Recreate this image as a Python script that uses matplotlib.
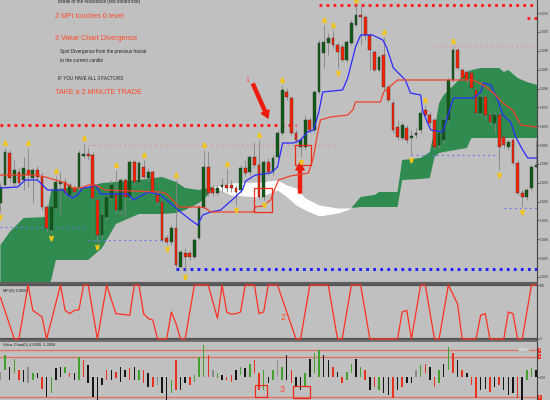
import numpy as np
import matplotlib
matplotlib.use('Agg')
import matplotlib.pyplot as plt
from matplotlib.patches import Rectangle
from matplotlib.ticker import FuncFormatter

plt.rcParams['font.family'] = ['Liberation Sans Narrow', 'Liberation Sans', 'DejaVu Sans']

# ------------------------------------------------------------
# price candles (price points)
# ------------------------------------------------------------
bars = np.arange(117)
opens = np.array([
    80, 98, 130, 100, 111, 103, 113, 105, 113, 106,
    76, 53, 75, 99, 101, 88, 95, 96, 127, 129,
    128, 83, 48, 66, 85, 90, 73, 103, 86, 121,
    101, 116, 105, 111, 88, 81, 45, 41, 55, 16,
    30, 30, 26, 45, 76, 116, 95, 90, 96, 98,
    98, 95, 93, 115, 111, 126, 118, 86, 121, 111,
    126, 150, 191, 185, 150, 136, 136, 163, 153, 191,
    230, 240, 245, 238, 236, 223, 240, 258, 268, 266,
    248, 231, 213, 228, 196, 180, 156, 145, 155, 145,
    148, 153, 173, 168, 163, 138, 143, 163, 203, 233,
    213, 211, 210, 193, 170, 186, 168, 160, 168, 146,
    136, 143, 120, 90, 86, 95, 116])
closes = np.array([
    96, 131, 105, 113, 100, 115, 108, 113, 106, 76,
    55, 76, 101, 101, 90, 98, 91, 130, 129, 127,
    85, 48, 68, 86, 98, 73, 103, 86, 121, 101,
    120, 106, 111, 91, 81, 43, 41, 55, 18, 31,
    26, 26, 43, 76, 116, 90, 90, 95, 98, 95,
    95, 91, 115, 110, 126, 118, 86, 121, 111, 125,
    150, 193, 186, 150, 143, 143, 163, 153, 191, 240,
    241, 245, 238, 231, 223, 241, 260, 268, 266, 248,
    233, 213, 226, 196, 183, 153, 146, 158, 143, 147,
    150, 170, 168, 160, 136, 150, 163, 203, 233, 215,
    205, 203, 195, 170, 186, 168, 161, 168, 136, 138,
    141, 120, 90, 86, 93, 116, 118])
highs = np.array([
    100, 135, 133, 123, 115, 126, 135, 115, 117, 111,
    78, 78, 107, 111, 105, 100, 98, 133, 140, 135,
    131, 85, 70, 88, 103, 113, 105, 105, 123, 123,
    122, 123, 115, 113, 91, 83, 48, 58, 103, 33,
    35, 33, 45, 78, 133, 131, 98, 98, 105, 114,
    103, 98, 118, 123, 128, 141, 143, 123, 125, 128,
    153, 198, 195, 187, 153, 146, 168, 166, 193, 243,
    258, 250, 253, 241, 239, 243, 263, 278, 278, 268,
    250, 233, 228, 246, 198, 183, 163, 161, 158, 153,
    155, 173, 178, 171, 165, 153, 166, 205, 237, 235,
    215, 213, 212, 195, 188, 188, 173, 171, 171, 148,
    143, 145, 123, 93, 95, 118, 143])
lows = np.array([
    71, 95, 101, 97, 97, 93, 96, 80, 103, 73,
    51, 50, 73, 68, 87, 85, 88, 93, 125, 123,
    83, 41, 45, 63, 83, 70, 68, 66, 83, 98,
    98, 103, 101, 88, 78, 41, 39, 38, 16, 16,
    11, 23, 24, 43, 74, 87, 87, 88, 91, 91,
    91, 78, 90, 107, 108, 115, 84, 83, 108, 108,
    123, 148, 183, 148, 140, 126, 133, 150, 151, 189,
    215, 228, 235, 215, 221, 221, 238, 256, 238, 243,
    213, 211, 211, 193, 181, 150, 143, 143, 140, 128,
    145, 150, 165, 157, 133, 135, 140, 160, 201, 213,
    203, 200, 193, 168, 168, 165, 158, 150, 113, 135,
    133, 118, 88, 76, 83, 93, 115])

fractal_up = [1, 6, 12, 18, 25, 31, 38, 44, 49, 56, 61, 70, 72, 77, 83, 92, 98]
fractal_down = [0, 11, 21, 36, 40, 51, 57, 65, 73, 89, 108, 113]

# fractal levels (dotted lines)
level_vals = [158, 278, 265, 237, 138, 56, 43, 14, 128, 75]
level_start = [0, 69, 114, 94, 19, 0, 19, 38, 89, 109]
level_end = [64, 116.3, 116.3, 116.3, 73, 18, 36, 116.3, 108, 116.3]
level_kind = ['res_big', 'res_big', 'res_big', 'res_small', 'res_small',
              'sup_small', 'sup_small', 'sup_big', 'sup_small', 'sup_small']

# ichimoku cloud
cloud_x = np.array([0, 2, 5, 10, 11, 12, 19, 22, 25, 30, 35, 38, 40, 43, 45, 46,
                    50, 56, 60, 62, 64, 66, 69, 73, 75, 76,
                    78, 81, 82, 86, 87, 91, 93, 94, 95, 96, 101, 102, 104, 108,
                    109, 110, 112, 114, 116.3])
span_a = np.array([38, 51, 65, 66, 93, 94, 96, 100, 101, 103, 106, 101, 95, 93, 95, 96,
                   88, 86, 93, 86, 78, 73, 67, 70, 73, 75,
                   86, 88, 91, 91, 123, 125, 131, 153, 180, 188, 211, 213, 215, 215,
                   211, 213, 205, 201, 198])
span_b = np.array([-17, -15, -12, -7, 3, 23, 23, 35, 59, 69, 69, 70, 73, 80, 88, 96,
                   100, 101, 103, 98, 95, 85, 78, 75, 75, 75,
                   76, 76, 76, 76, 103, 104, 105, 126, 130, 131, 135, 145, 145, 145,
                   145, 145, 145, 145, 145])

tenkan_x = [0, 3.7, 5.4, 8, 9.1, 10.2, 13.6, 14.5, 15.6, 16.7, 17.8, 19.5, 20.6, 21.7,
            27.7, 28.8, 32, 34.7, 36.8, 39, 41.2, 42.7, 43.8, 45.5, 47.7, 49.4, 50.9,
            52.4, 53.1, 55.2, 58.5, 60, 61.1, 63.5, 65, 66.5, 67.8, 68.9, 69.8, 74.1,
            75.2, 76.9, 78, 80.6, 82.8, 83.6, 85.1, 86.2, 87.7, 88.8, 91, 91.4, 92.5,
            93.2, 95.8, 96.8, 98.1, 102.5, 104, 104.6, 106.2, 107.7, 108.8, 110.5,
            111.6, 113.1, 114.2, 116.3]
tenkan_v = [95, 96, 103, 103, 98, 93, 93, 88, 85, 88, 95, 96, 98, 89,
            89, 83, 91, 88, 80, 71, 63, 58, 68, 71, 73, 80, 86,
            93, 102, 108, 110, 116, 140, 140, 143, 151, 153, 170, 191, 193,
            205, 236, 248, 248, 243, 236, 215, 210, 203, 190, 188, 173, 160,
            153, 151, 166, 185, 185, 191, 200, 198, 183, 168, 161,
            146, 133, 125, 125]

kijun_x = [0, 7.6, 9.7, 11.9, 14.1, 15.6, 17.3, 19.1, 20.6, 22.7, 34.7, 35.7, 37.3,
           38.6, 42.9, 44.4, 45.5, 54.8, 55.2, 56.8, 58.5, 60.2, 62.8, 66.7, 67.8,
           68.7, 69.3, 71.5, 75.2, 76.3, 76.9, 82.3, 83, 86, 102.3, 104.6, 106.8,
           108.8, 110.9, 112.7, 116.3]
kijun_v = [108, 108, 106, 103, 100, 95, 95, 98, 98, 93, 91, 90, 83,
           76, 76, 75, 71, 71, 76, 77, 83, 103, 107, 110, 126,
           150, 163, 166, 168, 173, 181, 181, 191, 203, 203, 198, 190,
           180, 173, 158, 156]

# MFI
mfi_x = [0, 3, 4, 6, 7, 9, 10, 13, 14, 15, 16, 17, 18, 19, 21, 23, 25, 28, 29, 30,
         31, 32, 33, 34, 36, 37, 38, 39, 40, 42, 45, 47, 48, 49, 50, 51, 52, 53, 55, 56,
         57, 58, 60, 64, 65, 67, 71, 73, 74, 76, 78, 80, 86, 87, 88, 89, 91, 92, 94, 95,
         97, 99, 100, 103, 104, 105, 106, 109, 110, 111, 112, 113, 115, 116.3]
mfi_v = [77, 0, 0, 100, 53, 41, 0, 100, 53, 47, 53, 54, 100, 100, 0, 100, 47, 44, 100, 100,
         47, 38, 35, 0, 0, 50, 29, 0, 0, 100, 100, 38, 100, 50, 46, 47, 50, 100, 100, 47,
         50, 100, 100, 0, 0, 100, 100, 0, 0, 100, 100, 0, 0, 50, 53, 0, 100, 100, 0, 0,
         100, 65, 0, 0, 44, 47, 0, 0, 50, 47, 0, 0, 100, 100]

# Value Chart bars
vc_top = np.array([
    1.5, 6.5, 3.1, 5.5, 2.1, 2.1, 3.1, 1.1, 1.1, 0.1,
    0.1, 0.1, 2.6, 3.1, 3.1, 1.1, 1.1, 6.0, 5.0, 3.6,
    0.1, 0.1, -0.4, 2.1, 2.1, 1.6, 3.1, 2.1, 2.6, 3.1,
    2.1, 2.1, 1.1, 0.1, 0.1, 0.1, 0.1, -0.9, 5.0, 0.1,
    0.1, 0.1, 0.6, 6.0, 9.5, 6.5, 2.1, 1.1, 0.6, 0.1,
    0.6, 2.1, 3.1, 2.6, 4.0, 5.0, 1.1, 2.1, 0.1, 2.1,
    5.0, 3.1, 6.5, 2.1, 0.1, 0.1, 1.1, 5.5, 7.0, 8.0,
    6.5, 5.0, 3.1, 1.6, 0.1, 1.6, 4.0, 5.5, 3.1, 2.1,
    0.1, 0.1, 0.1, 0.1, 0.1, 0.1, 0.1, 0.1, 0.1, 0.1,
    2.1, 3.6, 4.0, 3.1, 0.1, 2.1, 4.0, 9.0, 7.0, 5.0,
    2.1, 1.1, 0.1, 0.1, 0.1, 0.1, 0.1, 0.1, 0.1, 0.1,
    0.1, 0.1, 0.1, 0.1, 2.1, 2.6, 2.1])
vc_bot = np.array([
    -0.9, 2.1, -0.9, 1.1, -0.9, -1.4, -1.9, -0.9, -0.4, -3.4,
    -5.8, -4.8, -0.9, 0.1, 1.1, 0.1, -0.9, -0.9, 0.1, -1.9,
    -5.8, -6.8, -2.4, -0.9, -0.9, -0.4, -1.4, 0.1, -0.9, -0.9,
    -0.9, -1.9, -2.9, -2.9, -2.4, -4.8, -6.8, -4.8, -3.9, -3.9,
    -1.9, -2.4, -1.4, 0.1, 0.1, 0.1, 0.1, -0.4, -0.9, -0.9,
    -1.4, -0.9, 0.6, 0.1, 0.1, 1.1, -3.9, -3.9, -1.9, -0.9,
    0.1, -0.9, -0.9, -1.9, -2.9, -3.9, -2.9, 0.1, 1.1, 0.1,
    0.1, 0.1, 0.1, 0.1, -1.9, -0.9, 1.1, 0.1, 0.1, -0.9,
    -3.9, -2.9, -3.9, -4.8, -5.3, -6.3, -3.9, -2.9, -1.9, -1.9,
    0.1, 0.1, 1.1, -0.9, -2.9, -1.9, 0.1, 2.1, 1.1, 0.1,
    0.1, 0.1, -2.4, -6.3, -3.9, -3.4, -4.3, -2.9, -2.4, -3.9,
    -5.3, -4.8, -6.3, -6.8, -0.9, 0.1, 0.1])
vc_kind = ("ygkgrkygkr" "kgkkgrkgrk" "kkkrkrkkrk" "grkrykkgrk" "krgggrygkr"
           "rkgkgrrgkg" "ygkrkkgkgg" "kkrkrggkgr" "krgkkrkrkk" "ygrkrgkgrk"
           "rkrrkkrkrk" "kkrkggk")

# right axis price labels
price_ticks = np.arange(1.2030, 1.21001, 0.0005)

# ------------------------------------------------------------
# style
# ------------------------------------------------------------
BG = '#c0c0c0'
GREEN = '#0f5c14'
RED = '#ff2200'
CLOUD = '#2f8b50'
BLUE = '#2b2bff'
KIJUN = '#f0412a'
NOTE = '#ff4a2a'
VC_COL = {'g': '#44a02c', 'r': '#e8321e', 'k': '#151515', 'y': '#8c8c8c'}
LEVEL_STYLE = {
    'res_big': dict(color='#ff1e1e', lw=2.2, ls=(0, (0.9, 1.4))),
    'res_small': dict(color='#e89088', lw=0.8, ls=(0, (1.6, 3.0))),
    'sup_big': dict(color='#1e1eff', lw=2.2, ls=(0, (0.9, 1.4))),
    'sup_small': dict(color='#7070f0', lw=0.8, ls=(0, (1.6, 3.0))),
}
XLIM = (-0.1, 116.2)

W, H = 550, 400
fig = plt.figure(figsize=(5.5, 4.0), dpi=100, facecolor=BG)


def fx(x):
    return x / W


def fy(y):
    return 1 - y / H


ax = fig.add_axes([0, fy(283), fx(537), 283 / H])
ax_mfi = fig.add_axes([0, fy(340), fx(537), 56 / H])
ax_vc = fig.add_axes([0, 0, fx(537), 59 / H])

for a in (ax, ax_mfi, ax_vc):
    a.set_facecolor(BG)
    a.set_xlim(*XLIM)
    a.set_xticks([])
    for s in ('top', 'left', 'bottom'):
        a.spines[s].set_visible(False)
    a.spines['right'].set_color('#404040')
    a.spines['right'].set_linewidth(0.8)
    a.yaxis.tick_right()
    a.tick_params(axis='y', labelsize=2.2, length=1.2, pad=0.6, colors='#333333', width=0.5)

# ---------------- main panel ----------------
ax.set_ylim(0, 283)
ax.spines['bottom'].set_visible(True)
ax.spines['bottom'].set_color('#606060')
ax.spines['bottom'].set_linewidth(1.6)
ax.set_yticks(6 + (price_ticks - 1.2030) / 0.0005 * 18.85)
ax.yaxis.set_major_formatter(FuncFormatter(lambda v, p: f'{1.2030 + (v - 6) / 18.85 * 0.0005:.4f}'))

ax.fill_between(cloud_x, span_a, span_b, where=span_a >= span_b, interpolate=True,
                color=CLOUD, lw=0, zorder=1)
ax.fill_between(cloud_x, span_a, span_b, where=span_a < span_b, interpolate=True,
                color='white', lw=0, zorder=1)

for v, s, e, k in zip(level_vals, level_start, level_end, level_kind):
    st = LEVEL_STYLE[k]
    ax.plot([s, e], [v, v], color=st['color'], lw=st['lw'], ls=st['ls'],
            dash_capstyle='butt', zorder=2)

up = closes >= opens
ax.vlines(bars, lows, highs, colors='#858585', lw=0.6, zorder=3)
body_lo = np.minimum(opens, closes)
body_h = np.maximum(np.abs(closes - opens), 1.2)
ax.bar(bars, body_h, bottom=body_lo, width=0.6,
       color=np.where(up, GREEN, RED), edgecolor='#303030', lw=0.3, zorder=4)

ax.plot(tenkan_x, tenkan_v, color=BLUE, lw=0.9, zorder=5)
ax.plot(kijun_x, kijun_v, color=KIJUN, lw=0.9, zorder=5)

ax.plot(fractal_up, highs[fractal_up] + 5, ls='none', marker=r'$\wedge$', ms=3,
        color='#f0c418', zorder=6)
ax.plot(fractal_down, lows[fractal_down] - 5, ls='none', marker=r'$\vee$', ms=3,
        color='#f0c418', zorder=6)

# ---------------- MFI panel ----------------
ax_mfi.set_ylim(-1.9, 101.9)
ax_mfi.set_yticks([100, 0])
ax_mfi.set_yticklabels(['100', '0'])
ax_mfi.axhline(100, color='#555555', lw=1.6, zorder=1)
ax_mfi.axhline(0, color='#555555', lw=1.6, zorder=1)
ax_mfi.plot(mfi_x, mfi_v, color='#ff3020', lw=0.9, zorder=3)
ax_mfi.text(0.5, 92, 'MFI(3) 0.0000', fontsize=2.8, color='#222222', va='top', ha='left')

# ---------------- Value Chart panel ----------------
ax_vc.set_ylim(-6.8, 10.7)
ax_vc.spines['top'].set_visible(True)
ax_vc.spines['top'].set_color('#606060')
ax_vc.spines['top'].set_linewidth(1.2)
ax_vc.set_yticks([0])
ax_vc.set_yticklabels(['0.00'])
for lv in (8, 6, -6):
    ax_vc.axhline(lv, color='#e0705e', lw=0.9, zorder=1)
ax_vc.bar(bars, vc_top - vc_bot, bottom=vc_bot, width=0.32,
          color=[VC_COL[c] for c in vc_kind], lw=0, zorder=3)
ax_vc.text(0.5, 10.2, 'Value Chart(5) 4.0000 -1.2058', fontsize=2.8, color='#222222',
           va='top', ha='left')
ax_vc.text(0.985, 8, '8.0000', transform=ax_vc.get_yaxis_transform(), fontsize=2.4,
           color='white', va='center', ha='right',
           bbox=dict(boxstyle='square,pad=0.15', fc='#b8b8b8', ec='none'))
for lv, lab in ((8, '8'), (6, '6'), (-6, '-6')):
    ax_vc.text(1.003, lv, lab, transform=ax_vc.get_yaxis_transform(), fontsize=2.2,
               color='white', va='center', ha='left',
               bbox=dict(boxstyle='square,pad=0.15', fc='#e8321e', ec='none'))

# ---------------- notes, arrows, boxes ----------------
notes = [
    (58, 1, 'Break of the resistance (red dotted line)', 3.3, '#222222'),
    (55, 17, '2 MFI touches 0 level', 5.2, NOTE),
    (55, 39, '3 Value Chart Divergence', 5.2, NOTE),
    (60, 52, 'Spot Divergence from the previous fractal', 3.3, '#222222'),
    (60, 60, 'to the current candle', 3.3, '#222222'),
    (58, 78, 'IF YOU HAVE ALL 3 FACTORS', 3.3, '#222222'),
    (55, 93, 'TAKE a 2 MINUTE TRADE', 5.2, NOTE),
    (245, 81, '1', 5, NOTE),
    (281, 318, '2', 6.5, NOTE),
    (280, 390, '3', 6.5, NOTE),
]
for x, y, s, fs, c in notes:
    fig.text(fx(x), fy(y), s, fontsize=fs, color=c, ha='left', va='center')

arrows = [((253, 84), (268, 118)), ((300, 193), (300, 163)),
          ((266, 331), (290, 331)), ((298, 347), (298, 372))]
for (x1, y1), (x2, y2) in arrows:
    ax.annotate('', xy=(fx(x2), fy(y2)), xytext=(fx(x1), fy(y1)),
                xycoords='figure fraction', textcoords='figure fraction',
                annotation_clip=False,
                arrowprops=dict(color='#ee1c0c', width=2.2, headwidth=6, headlength=5,
                                shrink=0))

boxes = [(254, 188, 272, 212), (295, 145, 311, 165), (255, 385, 267, 397), (293, 386, 310, 398)]
for x1, y1, x2, y2 in boxes:
    fig.add_artist(Rectangle((fx(x1), fy(y2)), fx(x2 - x1), (y2 - y1) / H,
                             transform=fig.transFigure, fill=False, ec='#ee2a1a', lw=0.9))

fig.savefig('out.png', dpi=100, facecolor=BG)
